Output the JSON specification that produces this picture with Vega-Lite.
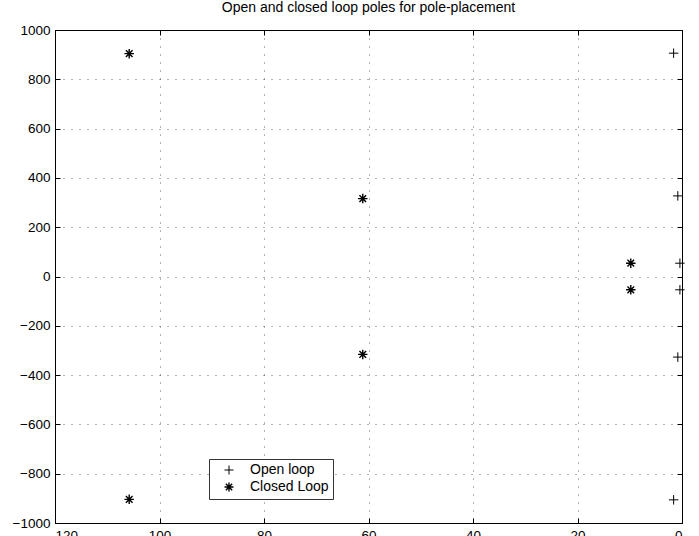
{
  "$schema": "https://vega.github.io/schema/vega-lite/v6.json",
  "width": 627,
  "height": 493,
  "autosize": {"type": "none"},
  "padding": {"left": 55, "top": 30, "right": 17, "bottom": 13},
  "background": "white",
  "title": {
    "text": "Open and closed loop poles for pole-placement",
    "fontSize": 14,
    "font": "Liberation Sans",
    "fontWeight": "normal",
    "color": "black",
    "anchor": "middle",
    "offset": 8
  },
  "config": {
    "view": {"stroke": "black", "strokeWidth": 1},
    "axis": {
      "labelFont": "Liberation Sans",
      "labelFontSize": 13.5,
      "labelColor": "black",
      "domainColor": "black",
      "tickColor": "black",
      "tickSize": -5,
      "labelPadding": 10,
      "grid": true,
      "gridColor": "black",
      "gridOpacity": 0.6,
      "gridDash": [1, 7],
      "title": null
    }
  },
  "data": {
    "values": [
      {"re": -1.6, "im": 906, "type": "Open loop"},
      {"re": -0.8, "im": 327, "type": "Open loop"},
      {"re": -0.4, "im": 54, "type": "Open loop"},
      {"re": -0.4, "im": -54, "type": "Open loop"},
      {"re": -0.8, "im": -327, "type": "Open loop"},
      {"re": -1.6, "im": -906, "type": "Open loop"},
      {"re": -105.8, "im": 904, "type": "Closed Loop"},
      {"re": -61.1, "im": 316, "type": "Closed Loop"},
      {"re": -9.8, "im": 54, "type": "Closed Loop"},
      {"re": -9.8, "im": -54, "type": "Closed Loop"},
      {"re": -61.1, "im": -316, "type": "Closed Loop"},
      {"re": -105.8, "im": -904, "type": "Closed Loop"}
    ]
  },
  "layer": [
    {
      "mark": {"type": "point", "filled": false, "color": "black", "size": 90, "opacity": 1},
      "encoding": {
        "x": {
          "field": "re", "type": "quantitative",
          "scale": {"domain": [-120, 0], "nice": false, "zero": false},
          "axis": {"values": [-120, -100, -80, -60, -40, -20, 0], "labelExpr": "format(abs(datum.value), 'd')"}
        },
        "y": {
          "field": "im", "type": "quantitative",
          "scale": {"domain": [-1000, 1000], "nice": false},
          "axis": {"values": [-1000, -800, -600, -400, -200, 0, 200, 400, 600, 800, 1000], "labelExpr": "replace(format(datum.value, 'd'), '-', '\u2212')"}
        },
        "strokeWidth": {
          "field": "type", "type": "nominal",
          "scale": {"domain": ["Open loop", "Closed Loop"], "range": [1, 1.4]},
          "legend": null
        },
        "shape": {
          "field": "type", "type": "nominal",
          "scale": {
            "domain": ["Open loop", "Closed Loop"],
            "range": ["M-1,0L1,0M0,-1L0,1", "M-1,0L1,0M0,-1L0,1M-0.7,-0.7L0.7,0.7M-0.7,0.7L0.7,-0.7"]
          },
          "legend": {
            "title": null,
            "orient": "none",
            "legendX": 154,
            "legendY": 429,
            "fillColor": "white",
            "strokeColor": "#333",
            "padding": 4,
            "rowPadding": 2,
            "symbolOffset": 9,
            "labelOffset": 14,
            "symbolSize": 81,
            "symbolStrokeColor": "black",
            "symbolStrokeWidth": 1,
            "symbolFillColor": "transparent",
            "labelFont": "Liberation Sans",
            "labelFontSize": 14,
            "labelColor": "black"
          }
        }
      }
    },
    {
      "mark": {"type": "point", "opacity": 0},
      "encoding": {
        "x": {
          "field": "re", "type": "quantitative",
          "scale": {"domain": [-120, 0], "nice": false, "zero": false},
          "axis": {"orient": "top", "values": [-120, -100, -80, -60, -40, -20, 0], "labels": false, "grid": false, "domain": false}
        },
        "y": {
          "field": "im", "type": "quantitative",
          "scale": {"domain": [-1000, 1000], "nice": false},
          "axis": {"orient": "right", "values": [-1000, -800, -600, -400, -200, 0, 200, 400, 600, 800, 1000], "labels": false, "grid": false, "domain": false}
        }
      }
    }
  ],
  "resolve": {"axis": {"x": "independent", "y": "independent"}}
}
